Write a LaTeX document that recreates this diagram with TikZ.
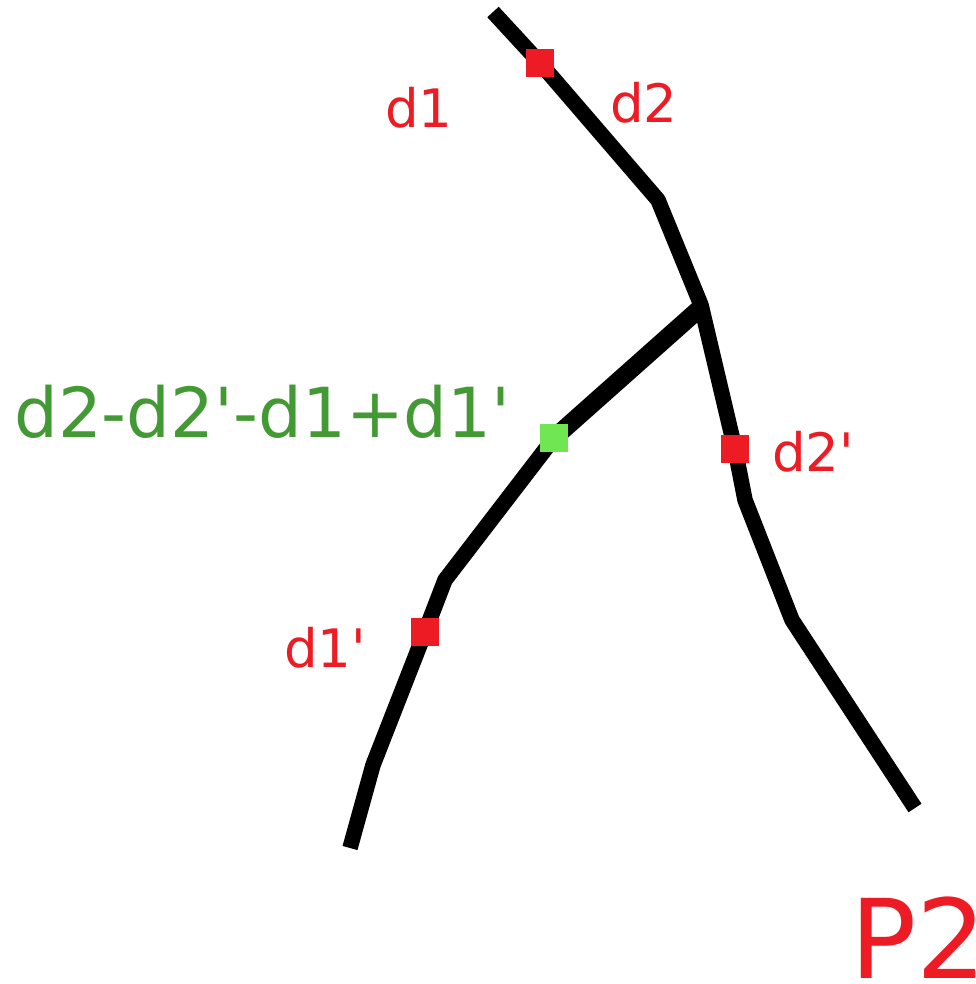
\documentclass[tikz,border=0pt]{standalone}
\usepackage{fontspec}
\setmainfont{DejaVu Sans}[Ligatures=TeXOff]
\definecolor{myred}{RGB}{237,28,36}
\definecolor{mygreen}{RGB}{67,153,51}
\definecolor{lightgreen}{RGB}{112,230,82}
\tikzset{
  curve/.style={line width=15.5pt, line join=round, line cap=butt, black},
  marksq/.style={rectangle, minimum size=28pt, inner sep=0pt, fill=myred},
  greensq/.style={rectangle, minimum size=28pt, inner sep=0pt, fill=lightgreen},
  redlab/.style={anchor=base west, inner sep=0pt, text=myred, font=\fontsize{53}{60}\selectfont},
}
\begin{document}
\begin{tikzpicture}[x=1pt,y=-1pt]
\useasboundingbox (0,0) rectangle (975,984);
% main curve
\coordinate (a0) at (493,12);
\coordinate (a1) at (540,63);
\coordinate (a2) at (658,200);
\coordinate (j) at (701,305);
\coordinate (a3) at (735,449);
\coordinate (a4) at (745,500);
\coordinate (a5) at (792,620);
\coordinate (a6) at (915,808);
% branch
\coordinate (b1) at (554,438);
\coordinate (b2) at (445,580);
\coordinate (b3) at (425,632);
\coordinate (b4) at (373,765);
\coordinate (b5) at (350,848);
\draw[curve] (a0) -- (a1) -- (a2) -- (j) -- (a3) -- (a4) -- (a5) -- (a6);
\draw[curve, line width=18pt] (698,310) -- (b1);
\draw[curve] (b1) -- (b2) -- (b3) -- (b4) -- (b5);
% markers
\node[marksq] (m1) at (a1) {};
\node[marksq] (m2) at (a3) {};
\node[marksq] (m3) at (b3) {};
\node[greensq] (m4) at (b1) {};
% labels
\node[redlab] (ld1) at (385,128) {d1};
\node[redlab] (ld2) at (610,123) {d2};
\node[redlab] (ld2p) at (772,471) {d2'};
\node[redlab] (ld1p) at (284,667) {d1'};
\node[anchor=base west, inner sep=0pt, text=mygreen, font=\fontsize{69}{78}\selectfont] (lg) at (14,437) {d2-d2'-d1+d1'};
\node[anchor=base west, inner sep=0pt, text=myred, font=\fontsize{110}{120}\selectfont] (p2) at (850,978) {P2};
\end{tikzpicture}
\end{document}
